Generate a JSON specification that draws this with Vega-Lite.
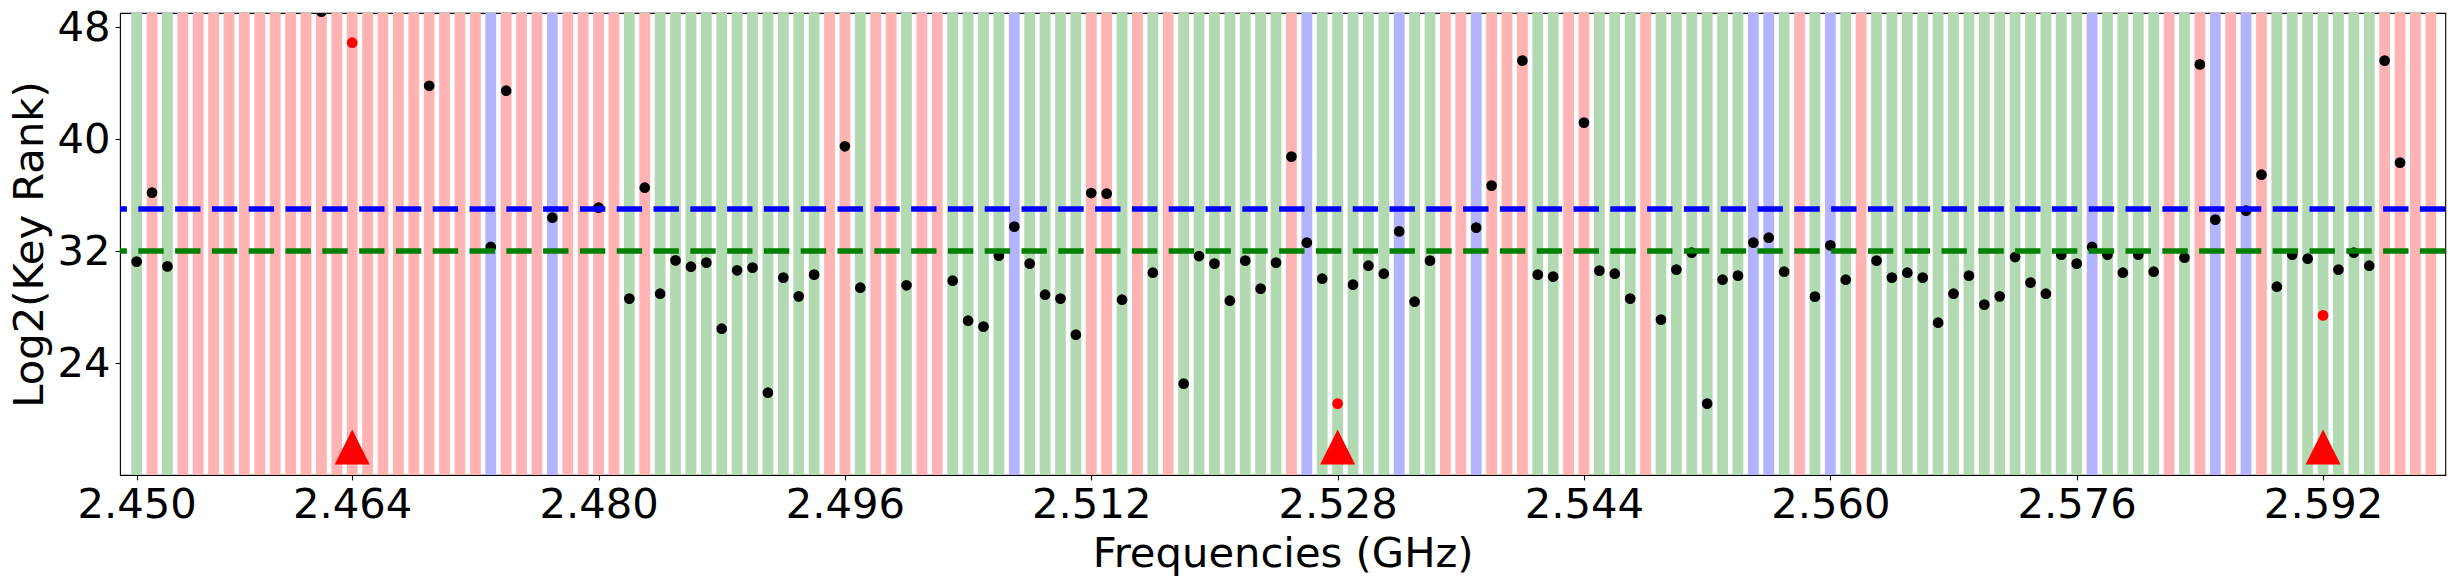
{
  "$schema": "https://vega.github.io/schema/vega-lite/v6.json",
  "width": 2325.3,
  "height": 462,
  "autosize": {"type": "none"},
  "padding": {"left": 120, "top": 13, "right": 12.7, "bottom": 109},
  "config": {
    "view": {"stroke": "black", "strokeWidth": 1.1},
    "font": "DejaVu Sans",
    "axis": {
      "labelFont": "DejaVu Sans",
      "titleFont": "DejaVu Sans",
      "labelFontSize": 41.7,
      "titleFontSize": 41.7,
      "titleFontWeight": "normal",
      "labelColor": "black",
      "titleColor": "black",
      "tickColor": "black",
      "tickSize": 4.9,
      "tickWidth": 1.1,
      "domain": false,
      "grid": false
    }
  },
  "datasets": {
    "channels": [
      {"freq": 2.450, "band": "green"}, {"freq": 2.451, "band": "red"}, {"freq": 2.452, "band": "green"},
      {"freq": 2.453, "band": "red"}, {"freq": 2.454, "band": "red"}, {"freq": 2.455, "band": "red"},
      {"freq": 2.456, "band": "red"}, {"freq": 2.457, "band": "red"}, {"freq": 2.458, "band": "red"},
      {"freq": 2.459, "band": "red"}, {"freq": 2.460, "band": "red"}, {"freq": 2.461, "band": "red"},
      {"freq": 2.462, "band": "red"}, {"freq": 2.463, "band": "red"}, {"freq": 2.464, "band": "red"},
      {"freq": 2.465, "band": "red"}, {"freq": 2.466, "band": "red"}, {"freq": 2.467, "band": "red"},
      {"freq": 2.468, "band": "red"}, {"freq": 2.469, "band": "red"}, {"freq": 2.470, "band": "red"},
      {"freq": 2.471, "band": "red"}, {"freq": 2.472, "band": "red"}, {"freq": 2.473, "band": "blue"},
      {"freq": 2.474, "band": "red"}, {"freq": 2.475, "band": "red"}, {"freq": 2.476, "band": "red"},
      {"freq": 2.477, "band": "blue"}, {"freq": 2.478, "band": "red"}, {"freq": 2.479, "band": "red"},
      {"freq": 2.480, "band": "red"}, {"freq": 2.481, "band": "red"}, {"freq": 2.482, "band": "green"},
      {"freq": 2.483, "band": "red"}, {"freq": 2.484, "band": "green"}, {"freq": 2.485, "band": "green"},
      {"freq": 2.486, "band": "green"}, {"freq": 2.487, "band": "green"}, {"freq": 2.488, "band": "green"},
      {"freq": 2.489, "band": "green"}, {"freq": 2.490, "band": "green"}, {"freq": 2.491, "band": "green"},
      {"freq": 2.492, "band": "green"}, {"freq": 2.493, "band": "green"}, {"freq": 2.494, "band": "green"},
      {"freq": 2.495, "band": "red"}, {"freq": 2.496, "band": "red"}, {"freq": 2.497, "band": "green"},
      {"freq": 2.498, "band": "red"}, {"freq": 2.499, "band": "red"}, {"freq": 2.500, "band": "green"},
      {"freq": 2.501, "band": "red"}, {"freq": 2.502, "band": "red"}, {"freq": 2.503, "band": "green"},
      {"freq": 2.504, "band": "green"}, {"freq": 2.505, "band": "green"}, {"freq": 2.506, "band": "green"},
      {"freq": 2.507, "band": "blue"}, {"freq": 2.508, "band": "green"}, {"freq": 2.509, "band": "green"},
      {"freq": 2.510, "band": "green"}, {"freq": 2.511, "band": "green"}, {"freq": 2.512, "band": "red"},
      {"freq": 2.513, "band": "red"}, {"freq": 2.514, "band": "green"}, {"freq": 2.515, "band": "red"},
      {"freq": 2.516, "band": "green"}, {"freq": 2.517, "band": "red"}, {"freq": 2.518, "band": "green"},
      {"freq": 2.519, "band": "green"}, {"freq": 2.520, "band": "green"}, {"freq": 2.521, "band": "green"},
      {"freq": 2.522, "band": "green"}, {"freq": 2.523, "band": "green"}, {"freq": 2.524, "band": "green"},
      {"freq": 2.525, "band": "red"}, {"freq": 2.526, "band": "blue"}, {"freq": 2.527, "band": "green"},
      {"freq": 2.528, "band": "green"}, {"freq": 2.529, "band": "green"}, {"freq": 2.530, "band": "green"},
      {"freq": 2.531, "band": "green"}, {"freq": 2.532, "band": "blue"}, {"freq": 2.533, "band": "green"},
      {"freq": 2.534, "band": "green"}, {"freq": 2.535, "band": "red"}, {"freq": 2.536, "band": "red"},
      {"freq": 2.537, "band": "blue"}, {"freq": 2.538, "band": "red"}, {"freq": 2.539, "band": "red"},
      {"freq": 2.540, "band": "red"}, {"freq": 2.541, "band": "green"}, {"freq": 2.542, "band": "green"},
      {"freq": 2.543, "band": "red"}, {"freq": 2.544, "band": "red"}, {"freq": 2.545, "band": "green"},
      {"freq": 2.546, "band": "green"}, {"freq": 2.547, "band": "green"}, {"freq": 2.548, "band": "red"},
      {"freq": 2.549, "band": "green"}, {"freq": 2.550, "band": "green"}, {"freq": 2.551, "band": "green"},
      {"freq": 2.552, "band": "green"}, {"freq": 2.553, "band": "green"}, {"freq": 2.554, "band": "green"},
      {"freq": 2.555, "band": "blue"}, {"freq": 2.556, "band": "blue"}, {"freq": 2.557, "band": "green"},
      {"freq": 2.558, "band": "red"}, {"freq": 2.559, "band": "green"}, {"freq": 2.560, "band": "blue"},
      {"freq": 2.561, "band": "green"}, {"freq": 2.562, "band": "red"}, {"freq": 2.563, "band": "green"},
      {"freq": 2.564, "band": "green"}, {"freq": 2.565, "band": "green"}, {"freq": 2.566, "band": "green"},
      {"freq": 2.567, "band": "green"}, {"freq": 2.568, "band": "green"}, {"freq": 2.569, "band": "green"},
      {"freq": 2.570, "band": "green"}, {"freq": 2.571, "band": "green"}, {"freq": 2.572, "band": "green"},
      {"freq": 2.573, "band": "green"}, {"freq": 2.574, "band": "green"}, {"freq": 2.575, "band": "green"},
      {"freq": 2.576, "band": "green"}, {"freq": 2.577, "band": "blue"}, {"freq": 2.578, "band": "green"},
      {"freq": 2.579, "band": "green"}, {"freq": 2.580, "band": "green"}, {"freq": 2.581, "band": "green"},
      {"freq": 2.582, "band": "red"}, {"freq": 2.583, "band": "green"}, {"freq": 2.584, "band": "red"},
      {"freq": 2.585, "band": "blue"}, {"freq": 2.586, "band": "red"}, {"freq": 2.587, "band": "blue"},
      {"freq": 2.588, "band": "red"}, {"freq": 2.589, "band": "green"}, {"freq": 2.590, "band": "green"},
      {"freq": 2.591, "band": "green"}, {"freq": 2.592, "band": "green"}, {"freq": 2.593, "band": "green"},
      {"freq": 2.594, "band": "green"}, {"freq": 2.595, "band": "green"}, {"freq": 2.596, "band": "red"},
      {"freq": 2.597, "band": "red"}, {"freq": 2.598, "band": "red"}, {"freq": 2.599, "band": "red"}
    ],
    "ranks": [
      {"freq": 2.450, "rank": 31.24, "target": false},
      {"freq": 2.451, "rank": 36.17, "target": false},
      {"freq": 2.452, "rank": 30.9, "target": false},
      {"freq": 2.462, "rank": 49.1, "target": false},
      {"freq": 2.464, "rank": 46.88, "target": true},
      {"freq": 2.469, "rank": 43.8, "target": false},
      {"freq": 2.473, "rank": 32.29, "target": false},
      {"freq": 2.474, "rank": 43.45, "target": false},
      {"freq": 2.477, "rank": 34.38, "target": false},
      {"freq": 2.480, "rank": 35.1, "target": false},
      {"freq": 2.482, "rank": 28.6, "target": false},
      {"freq": 2.483, "rank": 36.52, "target": false},
      {"freq": 2.484, "rank": 28.95, "target": false},
      {"freq": 2.485, "rank": 31.33, "target": false},
      {"freq": 2.486, "rank": 30.88, "target": false},
      {"freq": 2.487, "rank": 31.17, "target": false},
      {"freq": 2.488, "rank": 26.45, "target": false},
      {"freq": 2.489, "rank": 30.62, "target": false},
      {"freq": 2.490, "rank": 30.81, "target": false},
      {"freq": 2.491, "rank": 21.88, "target": false},
      {"freq": 2.492, "rank": 30.1, "target": false},
      {"freq": 2.493, "rank": 28.76, "target": false},
      {"freq": 2.494, "rank": 30.31, "target": false},
      {"freq": 2.496, "rank": 39.48, "target": false},
      {"freq": 2.497, "rank": 29.38, "target": false},
      {"freq": 2.500, "rank": 29.55, "target": false},
      {"freq": 2.503, "rank": 29.88, "target": false},
      {"freq": 2.504, "rank": 27.02, "target": false},
      {"freq": 2.505, "rank": 26.6, "target": false},
      {"freq": 2.506, "rank": 31.67, "target": false},
      {"freq": 2.507, "rank": 33.74, "target": false},
      {"freq": 2.508, "rank": 31.1, "target": false},
      {"freq": 2.509, "rank": 28.88, "target": false},
      {"freq": 2.510, "rank": 28.6, "target": false},
      {"freq": 2.511, "rank": 26.02, "target": false},
      {"freq": 2.512, "rank": 36.14, "target": false},
      {"freq": 2.513, "rank": 36.1, "target": false},
      {"freq": 2.514, "rank": 28.52, "target": false},
      {"freq": 2.516, "rank": 30.45, "target": false},
      {"freq": 2.518, "rank": 22.52, "target": false},
      {"freq": 2.519, "rank": 31.64, "target": false},
      {"freq": 2.520, "rank": 31.1, "target": false},
      {"freq": 2.521, "rank": 28.45, "target": false},
      {"freq": 2.522, "rank": 31.31, "target": false},
      {"freq": 2.523, "rank": 29.31, "target": false},
      {"freq": 2.524, "rank": 31.17, "target": false},
      {"freq": 2.525, "rank": 38.74, "target": false},
      {"freq": 2.526, "rank": 32.6, "target": false},
      {"freq": 2.527, "rank": 30.02, "target": false},
      {"freq": 2.528, "rank": 21.1, "target": true},
      {"freq": 2.529, "rank": 29.6, "target": false},
      {"freq": 2.530, "rank": 30.95, "target": false},
      {"freq": 2.531, "rank": 30.38, "target": false},
      {"freq": 2.532, "rank": 33.4, "target": false},
      {"freq": 2.533, "rank": 28.38, "target": false},
      {"freq": 2.534, "rank": 31.31, "target": false},
      {"freq": 2.537, "rank": 33.67, "target": false},
      {"freq": 2.538, "rank": 36.67, "target": false},
      {"freq": 2.540, "rank": 45.6, "target": false},
      {"freq": 2.541, "rank": 30.31, "target": false},
      {"freq": 2.542, "rank": 30.17, "target": false},
      {"freq": 2.544, "rank": 41.17, "target": false},
      {"freq": 2.545, "rank": 30.6, "target": false},
      {"freq": 2.546, "rank": 30.38, "target": false},
      {"freq": 2.547, "rank": 28.6, "target": false},
      {"freq": 2.549, "rank": 27.1, "target": false},
      {"freq": 2.550, "rank": 30.67, "target": false},
      {"freq": 2.551, "rank": 31.88, "target": false},
      {"freq": 2.552, "rank": 21.1, "target": false},
      {"freq": 2.553, "rank": 29.95, "target": false},
      {"freq": 2.554, "rank": 30.24, "target": false},
      {"freq": 2.555, "rank": 32.6, "target": false},
      {"freq": 2.556, "rank": 32.95, "target": false},
      {"freq": 2.557, "rank": 30.52, "target": false},
      {"freq": 2.559, "rank": 28.74, "target": false},
      {"freq": 2.560, "rank": 32.4, "target": false},
      {"freq": 2.561, "rank": 29.95, "target": false},
      {"freq": 2.563, "rank": 31.31, "target": false},
      {"freq": 2.564, "rank": 30.1, "target": false},
      {"freq": 2.565, "rank": 30.45, "target": false},
      {"freq": 2.566, "rank": 30.1, "target": false},
      {"freq": 2.567, "rank": 26.88, "target": false},
      {"freq": 2.568, "rank": 28.95, "target": false},
      {"freq": 2.569, "rank": 30.24, "target": false},
      {"freq": 2.570, "rank": 28.17, "target": false},
      {"freq": 2.571, "rank": 28.76, "target": false},
      {"freq": 2.572, "rank": 31.57, "target": false},
      {"freq": 2.573, "rank": 29.74, "target": false},
      {"freq": 2.574, "rank": 28.95, "target": false},
      {"freq": 2.575, "rank": 31.74, "target": false},
      {"freq": 2.576, "rank": 31.1, "target": false},
      {"freq": 2.577, "rank": 32.29, "target": false},
      {"freq": 2.578, "rank": 31.74, "target": false},
      {"freq": 2.579, "rank": 30.45, "target": false},
      {"freq": 2.580, "rank": 31.74, "target": false},
      {"freq": 2.581, "rank": 30.52, "target": false},
      {"freq": 2.583, "rank": 31.52, "target": false},
      {"freq": 2.584, "rank": 45.33, "target": false},
      {"freq": 2.585, "rank": 34.24, "target": false},
      {"freq": 2.587, "rank": 34.88, "target": false},
      {"freq": 2.588, "rank": 37.45, "target": false},
      {"freq": 2.589, "rank": 29.45, "target": false},
      {"freq": 2.590, "rank": 31.74, "target": false},
      {"freq": 2.591, "rank": 31.45, "target": false},
      {"freq": 2.592, "rank": 27.4, "target": true},
      {"freq": 2.593, "rank": 30.67, "target": false},
      {"freq": 2.594, "rank": 31.88, "target": false},
      {"freq": 2.595, "rank": 30.95, "target": false},
      {"freq": 2.596, "rank": 45.6, "target": false},
      {"freq": 2.597, "rank": 38.31, "target": false}
    ],
    "thresholds": [
      {"level": 35, "line": "blue"},
      {"level": 32, "line": "green"}
    ],
    "targets": [
      {"freq": 2.464, "mark": 18},
      {"freq": 2.528, "mark": 18},
      {"freq": 2.592, "mark": 18}
    ]
  },
  "layer": [
    {
      "data": {"name": "channels"},
      "mark": {"type": "rule", "strokeWidth": 10.8, "strokeCap": "butt"},
      "encoding": {
        "x": {
          "field": "freq",
          "type": "quantitative",
          "scale": {"domain": [2.44892, 2.59994], "nice": false, "zero": false},
          "axis": {
            "values": [2.45, 2.464, 2.48, 2.496, 2.512, 2.528, 2.544, 2.56, 2.576, 2.592],
            "format": ".3f",
            "labelPadding": 5,
            "labelFlush": false,
            "labelOverlap": false,
            "title": "Frequencies (GHz)",
            "titleBaseline": "alphabetic",
            "titleY": 91.7
          }
        },
        "color": {
          "field": "band",
          "type": "nominal",
          "scale": {"domain": ["red", "green", "blue"], "range": ["#ffb3b3", "#b3d9b3", "#b3b3ff"]},
          "legend": null
        }
      }
    },
    {
      "data": {"name": "ranks"},
      "mark": {"type": "circle", "size": 115, "opacity": 1, "clip": true},
      "encoding": {
        "x": {"field": "freq", "type": "quantitative", "scale": {"domain": [2.44892, 2.59994], "nice": false, "zero": false}},
        "y": {
          "field": "rank",
          "type": "quantitative",
          "scale": {"domain": [16, 49], "nice": false, "zero": false},
          "axis": {
            "values": [24, 32, 40, 48],
            "labelPadding": 5,
            "labelFlush": false,
            "title": "Log2(Key Rank)",
            "titleBaseline": "alphabetic",
            "titleX": -78,
            "titleY": 231,
            "titleAngle": -90,
            "titleAlign": "center"
          }
        },
        "color": {"condition": {"test": "datum.target", "value": "#ff0000"}, "value": "#000000"}
      }
    },
    {
      "data": {"name": "thresholds"},
      "mark": {"type": "rule", "strokeWidth": 5.7, "strokeDash": [25.4, 11.4], "strokeCap": "butt"},
      "encoding": {
        "y": {"field": "level", "type": "quantitative", "scale": {"domain": [16, 49], "nice": false, "zero": false}},
        "color": {
          "field": "line",
          "type": "nominal",
          "scale": {"domain": ["blue", "green"], "range": ["#0000ff", "#008000"]},
          "legend": null
        }
      }
    },
    {
      "data": {"name": "targets"},
      "mark": {"type": "point", "shape": "M0,-1L1,1L-1,1Z", "size": 1225, "filled": true, "opacity": 1, "color": "#ff0000"},
      "encoding": {
        "x": {"field": "freq", "type": "quantitative", "scale": {"domain": [2.44892, 2.59994], "nice": false, "zero": false}},
        "y": {"field": "mark", "type": "quantitative", "scale": {"domain": [16, 49], "nice": false, "zero": false}}
      }
    }
  ],
  "resolve": {"scale": {"color": "independent"}}
}
